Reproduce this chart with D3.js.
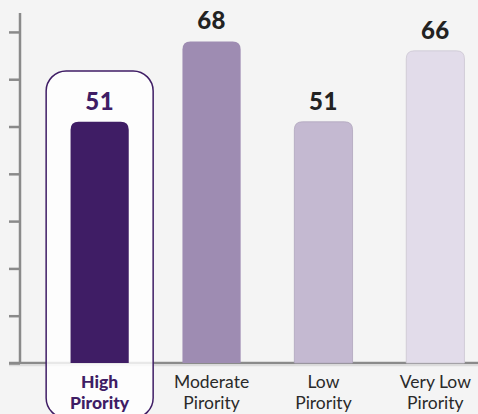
<!DOCTYPE html>
<html>
<head>
<meta charset="utf-8">
<script src="https://cdn.jsdelivr.net/npm/d3@7"></script>
<style>
  html, body { margin: 0; padding: 0; background: #f4f4f4; }
  svg { display: block; }
</style>
</head>
<body>
<div id="chart"></div>
<script>
// data
var categories = ["High Pirority", "Moderate Pirority", "Low Pirority", "Very Low Pirority"];
var values = [51, 68, 51, 66];
var barColors = ["#3f1d65", "#9e8cb2", "#c4b9d1", "#e2dcea"];
var yTicks = [0, 10, 20, 30, 40, 50, 60, 70];
var highlight = "High Pirority";

var width = 478, height = 414;
var baseY = 363, topY = 13, axisX = 20;

var svg = d3.select("#chart").append("svg")
    .attr("width", width)
    .attr("height", height);

svg.append("rect")
    .attr("width", width).attr("height", height)
    .attr("fill", "#f4f4f4");

var x = d3.scaleBand()
    .domain(categories)
    .range([43.7, 491.3])
    .paddingInner(0.48)
    .paddingOuter(0.24);

var y = d3.scaleLinear()
    .domain([0, 74])
    .range([baseY, topY]);

// baseline
svg.append("line")
    .attr("x1", 9).attr("x2", width)
    .attr("y1", baseY).attr("y2", baseY)
    .attr("stroke", "#8a8a8a")
    .attr("stroke-width", 2.5);
svg.append("line")
    .attr("x1", 9).attr("x2", width)
    .attr("y1", baseY + 2.5).attr("y2", baseY + 2.5)
    .attr("stroke", "#dcdcdc")
    .attr("stroke-width", 1.5);

// y axis with ticks, no labels
var yAxis = svg.append("g")
    .attr("transform", "translate(" + axisX + ",0)")
    .call(d3.axisLeft(y).tickValues(yTicks).tickSize(11).tickFormat(""));
yAxis.select(".domain").remove();
yAxis.selectAll(".tick line")
    .attr("stroke", "#8a8a8a")
    .attr("stroke-width", 2.5);
svg.append("line")
    .attr("x1", axisX).attr("x2", axisX)
    .attr("y1", topY).attr("y2", baseY + 1)
    .attr("stroke", "#8a8a8a")
    .attr("stroke-width", 2.5);

// highlight box
var hx = x(highlight) + x.bandwidth() / 2;
svg.append("rect")
    .attr("x", hx - 53.5)
    .attr("y", 71)
    .attr("width", 107)
    .attr("height", 347)
    .attr("rx", 20).attr("ry", 20)
    .attr("fill", "#ffffff")
    .attr("fill-opacity", 0.8)
    .attr("stroke", "#3f1d65")
    .attr("stroke-width", 1.5);

// bars with rounded tops
function barPath(d, i) {
  var x0 = x(categories[i]), w = x.bandwidth();
  var y0 = y(d), r = 8;
  return "M" + x0 + "," + baseY +
    "V" + (y0 + r) +
    "Q" + x0 + "," + y0 + " " + (x0 + r) + "," + y0 +
    "H" + (x0 + w - r) +
    "Q" + (x0 + w) + "," + y0 + " " + (x0 + w) + "," + (y0 + r) +
    "V" + baseY + "Z";
}

svg.selectAll(".bar")
    .data(values)
    .enter().append("path")
    .attr("class", "bar")
    .attr("d", barPath)
    .attr("fill", function(d, i) { return barColors[i]; })
    .attr("stroke", function(d, i) { return i >= 2 ? d3.color(barColors[i]).darker(0.3) : "none"; })
    .attr("stroke-width", 0.8);

// value labels
svg.selectAll(".val")
    .data(values)
    .enter().append("text")
    .attr("class", "val")
    .attr("x", function(d, i) { return x(categories[i]) + x.bandwidth() / 2; })
    .attr("y", function(d) { return y(d) - 12; })
    .attr("text-anchor", "middle")
    .attr("font-family", "Lato, sans-serif")
    .attr("font-weight", 900)
    .attr("font-size", 24)
    .attr("letter-spacing", 0.5)
    .attr("fill", function(d, i) { return categories[i] === highlight ? "#3f1d65" : "#222222"; })
    .text(function(d) { return d; });

// category labels, two lines
var labels = svg.selectAll(".cat")
    .data(categories)
    .enter().append("text")
    .attr("class", "cat")
    .attr("x", function(d) { return x(d) + x.bandwidth() / 2; })
    .attr("y", 388)
    .attr("text-anchor", "middle")
    .attr("font-family", "Lato, sans-serif")
    .attr("font-size", 17.5)
    .attr("font-weight", function(d) { return d === highlight ? 900 : 400; })
    .attr("fill", function(d) { return d === highlight ? "#3f1d65" : "#2a2a2a"; });

labels.each(function(d) {
  var parts = d.split(" ");
  var last = parts.pop();
  var t = d3.select(this);
  var cx = t.attr("x");
  t.append("tspan").attr("x", cx).attr("dy", 0).text(parts.join(" "));
  t.append("tspan").attr("x", cx).attr("dy", 21).text(last);
});
</script>
</body>
</html>
